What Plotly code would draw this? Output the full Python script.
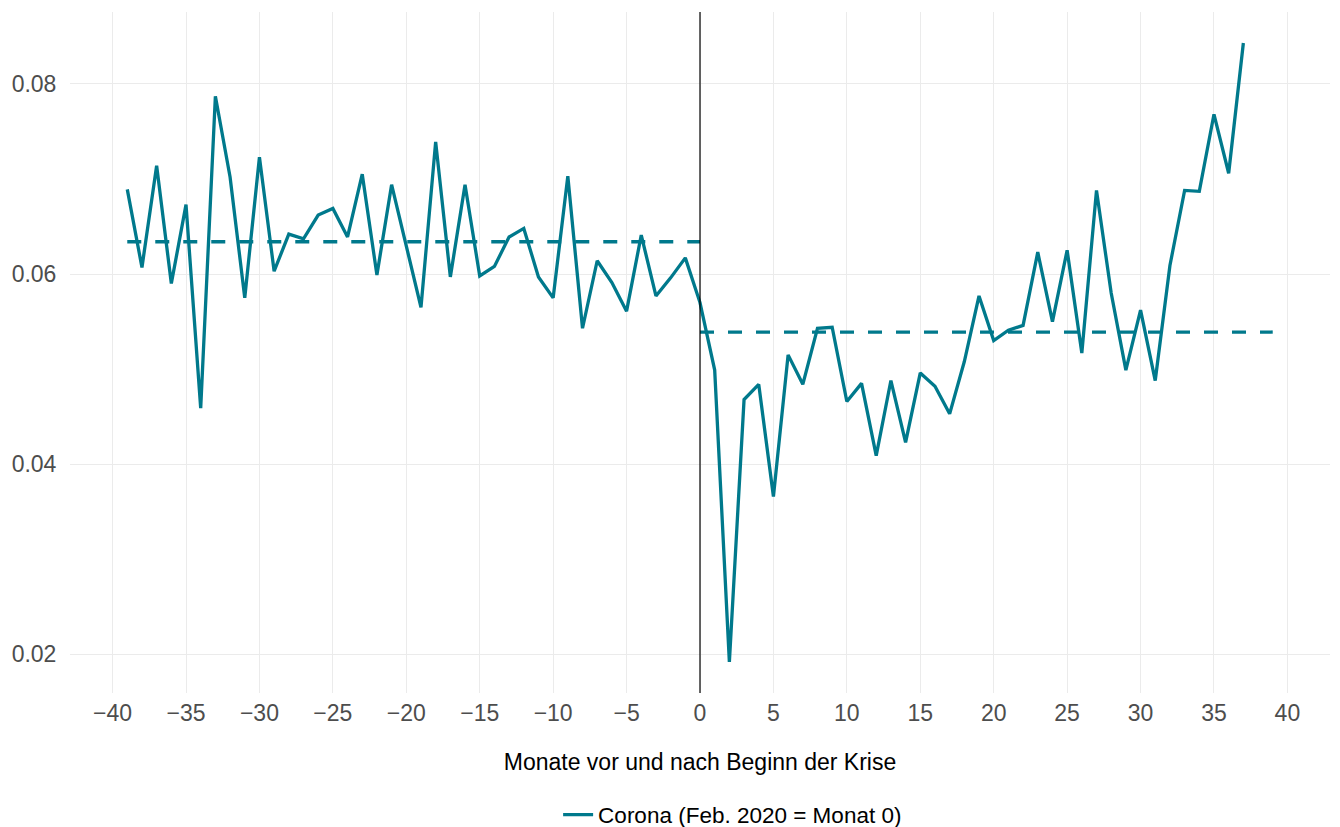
import plotly.graph_objects as go

months = list(range(-39, 38))
values = [
    0.0689, 0.0607, 0.0714, 0.0590, 0.0673, 0.0459, 0.0787, 0.0702, 0.0575, 0.0723,  # -39..-30
    0.0603, 0.0642, 0.0637, 0.0662, 0.0669, 0.0639, 0.0705, 0.0599, 0.0694, 0.0631,  # -29..-20
    0.0565, 0.0739, 0.0597, 0.0694, 0.0598, 0.0608, 0.0639, 0.0648, 0.0597, 0.0575,  # -19..-10
    0.0703, 0.0543, 0.0614, 0.0591, 0.0561, 0.0641, 0.0577, 0.0596, 0.0617, 0.0570,  # -9..0
    0.0499, 0.0192, 0.0468, 0.0484, 0.0366, 0.0515, 0.0484, 0.0543, 0.0544, 0.0466,  # 1..10
    0.0485, 0.0409, 0.0488, 0.0423, 0.0496, 0.0482, 0.0453, 0.0508, 0.0577, 0.0530,  # 11..20
    0.0541, 0.0546, 0.0623, 0.0550, 0.0625, 0.0517, 0.0688, 0.0580, 0.0499, 0.0562,  # 21..30
    0.0488, 0.0609, 0.0688, 0.0687, 0.0768, 0.0706, 0.0843,                          # 31..37
]
pre_x = [-39, 0]
pre_mean = [0.0634, 0.0634]
post_x = [0, 39]
post_mean = [0.0539, 0.0539]
x_ticks = list(range(-40, 41, 5))
y_ticks = [0.02, 0.04, 0.06, 0.08]

color = "#00798C"
font = "Liberation Sans, Arial, sans-serif"

fig = go.Figure()
fig.add_trace(go.Scatter(x=pre_x, y=pre_mean, mode="lines", showlegend=False,
                         line=dict(color=color, width=3.3, dash="14px,14px")))
fig.add_trace(go.Scatter(x=post_x, y=post_mean, mode="lines", showlegend=False,
                         line=dict(color=color, width=3.3, dash="14px,14px")))
fig.add_trace(go.Scatter(x=months, y=values, mode="lines", name="Corona (Feb. 2020 = Monat 0)",
                         line=dict(color=color, width=3.3)))
fig.add_vline(x=0, line=dict(color="black", width=1.2))

fig.update_layout(
    width=1332, height=819,
    paper_bgcolor="white", plot_bgcolor="white",
    margin=dict(l=62, r=10, t=4, b=134),
    font=dict(family=font, size=23, color="black"),
    xaxis=dict(range=[-42.9, 42.9], tickvals=x_ticks, showgrid=True, gridcolor="#EBEBEB",
               gridwidth=1, zeroline=False, showline=False, ticks="", automargin=False,
               ticklabelstandoff=4,
               tickfont=dict(size=23, color="#4D4D4D"),
               title=dict(text="Monate vor und nach Beginn der Krise", standoff=28,
                          font=dict(size=23, color="black"))),
    yaxis=dict(range=[0.01594, 0.08756], tickvals=y_ticks, tickformat=".2f", showgrid=True,
               gridcolor="#EBEBEB", gridwidth=1, zeroline=False, showline=False,
               ticks="outside", ticklen=8, tickcolor="rgba(0,0,0,0)",
               automargin=False,
               tickfont=dict(size=23, color="#4D4D4D")),
    legend=dict(orientation="h", xref="container", yref="container", x=0.413, xanchor="left",
                y=1 - 807 / 819, yanchor="middle",
                font=dict(size=22.5, color="black"), itemwidth=30),
)

fig.write_html("out.html")
